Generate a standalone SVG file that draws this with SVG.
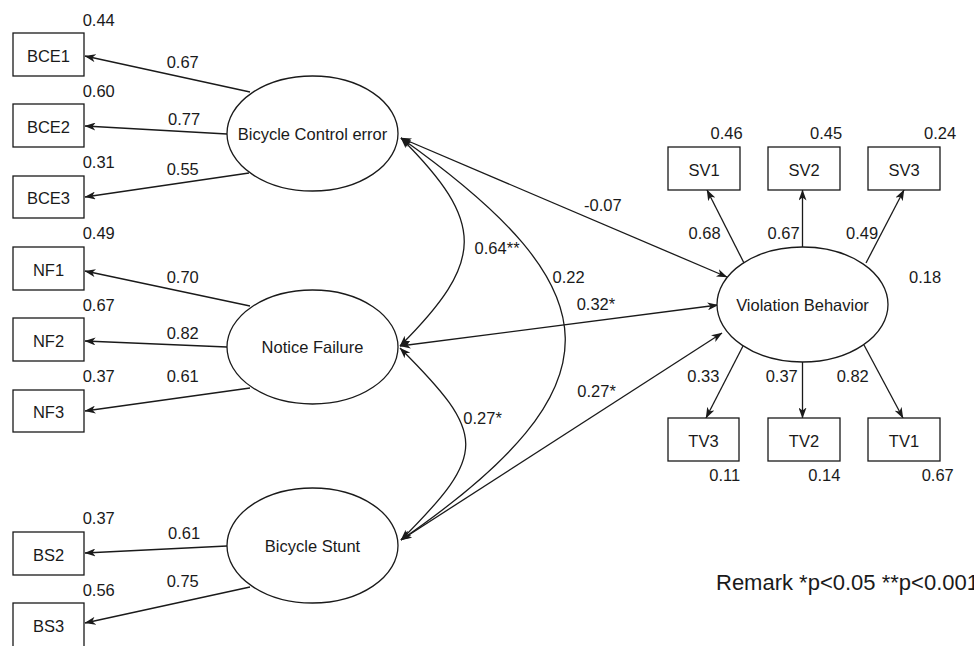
<svg xmlns="http://www.w3.org/2000/svg" width="974" height="646" viewBox="0 0 974 646">
  <style>
    .box { fill: #ffffff; stroke: #1a1a1a; stroke-width: 1.3; }
    .lat { fill: #ffffff; stroke: #1a1a1a; stroke-width: 1.3; }
    .edge { fill: none; stroke: #1a1a1a; stroke-width: 1.3; }
    text { font-family: "Liberation Sans", Arial, sans-serif; font-size: 16.5px; fill: #1a1a1a; }
    .c { text-anchor: middle; }
    .remark { font-size: 22px; }
  </style>
  <defs>
    <marker id="arrow" viewBox="0 0 11 8" refX="10.5" refY="4" markerWidth="11" markerHeight="8" markerUnits="userSpaceOnUse" orient="auto-start-reverse">
      <path d="M0,0 L11,4 L0,8 L3,4 z" fill="#1a1a1a"/>
    </marker>
  </defs>
  <rect width="974" height="646" fill="#ffffff"/>

  <!-- connectors -->
  <g id="connectors">
    <!-- loadings: Bicycle Control error -->
    <path class="edge" d="M250,92 L85,56" marker-end="url(#arrow)"/>
    <path class="edge" d="M227,134 L85,126" marker-end="url(#arrow)"/>
    <path class="edge" d="M249,173 L85,197" marker-end="url(#arrow)"/>
    <!-- loadings: Notice Failure -->
    <path class="edge" d="M250,306 L85,271" marker-end="url(#arrow)"/>
    <path class="edge" d="M227,347 L85,341" marker-end="url(#arrow)"/>
    <path class="edge" d="M250,388 L85,411" marker-end="url(#arrow)"/>
    <!-- loadings: Bicycle Stunt -->
    <path class="edge" d="M227,546 L85,553" marker-end="url(#arrow)"/>
    <path class="edge" d="M250,587 L85,623" marker-end="url(#arrow)"/>
    <!-- loadings: Violation Behavior -->
    <path class="edge" d="M744,263 L707,190" marker-end="url(#arrow)"/>
    <path class="edge" d="M802.5,247 L802.5,190" marker-end="url(#arrow)"/>
    <path class="edge" d="M866,263 L904,190" marker-end="url(#arrow)"/>
    <path class="edge" d="M743,346 L706,418" marker-end="url(#arrow)"/>
    <path class="edge" d="M802.5,362 L802.5,418" marker-end="url(#arrow)"/>
    <path class="edge" d="M864,345 L903,418" marker-end="url(#arrow)"/>
    <!-- correlations -->
    <path class="edge" d="M401,138 L727,277" marker-start="url(#arrow)" marker-end="url(#arrow)"/>
    <path class="edge" d="M400,346 L718,305" marker-start="url(#arrow)" marker-end="url(#arrow)"/>
    <path class="edge" d="M401,540 L722,333" marker-start="url(#arrow)" marker-end="url(#arrow)"/>
    <path class="edge" d="M401,138 C486,223 485,261 400,346" marker-start="url(#arrow)" marker-end="url(#arrow)"/>
    <path class="edge" d="M401,138 C615,290 625,385 401,540" marker-start="url(#arrow)" marker-end="url(#arrow)"/>
    <path class="edge" d="M400,348 C487,435 488,453 401,540" marker-start="url(#arrow)" marker-end="url(#arrow)"/>
  </g>

  <!-- observed indicators -->
  <g id="BCE1"><rect class="box" x="13" y="33" width="71" height="43"/><text class="c" x="48.5" y="61.5">BCE1</text></g>
  <g id="BCE2"><rect class="box" x="13" y="104" width="71" height="43"/><text class="c" x="48.5" y="132.5">BCE2</text></g>
  <g id="BCE3"><rect class="box" x="13" y="176" width="71" height="42"/><text class="c" x="48.5" y="204">BCE3</text></g>
  <g id="NF1"><rect class="box" x="13" y="247" width="71" height="43"/><text class="c" x="48.5" y="275.5">NF1</text></g>
  <g id="NF2"><rect class="box" x="13" y="318" width="71" height="43"/><text class="c" x="48.5" y="346.5">NF2</text></g>
  <g id="NF3"><rect class="box" x="13" y="390" width="71" height="42"/><text class="c" x="48.5" y="418">NF3</text></g>
  <g id="BS2"><rect class="box" x="13" y="532" width="71" height="43"/><text class="c" x="48.5" y="560.5">BS2</text></g>
  <g id="BS3"><rect class="box" x="13" y="603" width="71" height="44"/><text class="c" x="48.5" y="631.5">BS3</text></g>
  <g id="SV1"><rect class="box" x="668" y="147" width="72" height="43"/><text class="c" x="704" y="175.5">SV1</text></g>
  <g id="SV2"><rect class="box" x="768" y="147" width="72" height="43"/><text class="c" x="804" y="175.5">SV2</text></g>
  <g id="SV3"><rect class="box" x="868" y="147" width="72" height="43"/><text class="c" x="904" y="175.5">SV3</text></g>
  <g id="TV3"><rect class="box" x="668" y="418" width="71" height="43"/><text class="c" x="703.5" y="446.5">TV3</text></g>
  <g id="TV2"><rect class="box" x="768" y="418" width="72" height="43"/><text class="c" x="804" y="446.5">TV2</text></g>
  <g id="TV1"><rect class="box" x="868" y="418" width="72" height="43"/><text class="c" x="904" y="446.5">TV1</text></g>

  <!-- latent factors -->
  <g id="BicycleControlError"><ellipse class="lat" cx="312.5" cy="133.5" rx="85.5" ry="57.5"/><text class="c" x="312.5" y="139.5">Bicycle Control error</text></g>
  <g id="NoticeFailure"><ellipse class="lat" cx="312.5" cy="347" rx="85.5" ry="57"/><text class="c" x="312.5" y="353">Notice Failure</text></g>
  <g id="BicycleStunt"><ellipse class="lat" cx="312.5" cy="545.5" rx="85.5" ry="57.5"/><text class="c" x="312.5" y="551.5">Bicycle Stunt</text></g>
  <g id="ViolationBehavior"><ellipse class="lat" cx="802.5" cy="304.5" rx="85.5" ry="57.5"/><text class="c" x="802.5" y="310.5">Violation Behavior</text></g>

  <!-- coefficients -->
  <g id="labels">
    <text x="82.7" y="26">0.44</text>
    <text x="166.7" y="68.3">0.67</text>
    <text x="82.7" y="96.7">0.60</text>
    <text x="168" y="125">0.77</text>
    <text x="82.7" y="168">0.31</text>
    <text x="166.7" y="175">0.55</text>
    <text x="82.7" y="239.3">0.49</text>
    <text x="166.7" y="282.7">0.70</text>
    <text x="82.7" y="310.7">0.67</text>
    <text x="166.7" y="339.3">0.82</text>
    <text x="82.7" y="382.3">0.37</text>
    <text x="166.7" y="382.3">0.61</text>
    <text x="82.7" y="524">0.37</text>
    <text x="168" y="539">0.61</text>
    <text x="82.7" y="595.7">0.56</text>
    <text x="166.7" y="586.7">0.75</text>

    <text x="710.6" y="139">0.46</text>
    <text x="810" y="139">0.45</text>
    <text x="924" y="139">0.24</text>
    <text x="584" y="211">-0.07</text>
    <text x="688.6" y="239">0.68</text>
    <text x="767.6" y="239">0.67</text>
    <text x="846" y="239">0.49</text>
    <text x="474.6" y="254">0.64**</text>
    <text x="552.6" y="282.7">0.22</text>
    <text x="909" y="282.7">0.18</text>
    <text x="576.7" y="309.5">0.32*</text>
    <text x="577.3" y="396.7">0.27*</text>
    <text x="463.3" y="424">0.27*</text>
    <text x="687.3" y="381.7">0.33</text>
    <text x="765.7" y="381.7">0.37</text>
    <text x="836.7" y="381.7">0.82</text>
    <text x="709.3" y="481">0.11</text>
    <text x="808.3" y="481">0.14</text>
    <text x="921.7" y="481">0.67</text>
    <text class="remark" x="716" y="590">Remark *p&lt;0.05 **p&lt;0.001</text>
  </g>
</svg>
